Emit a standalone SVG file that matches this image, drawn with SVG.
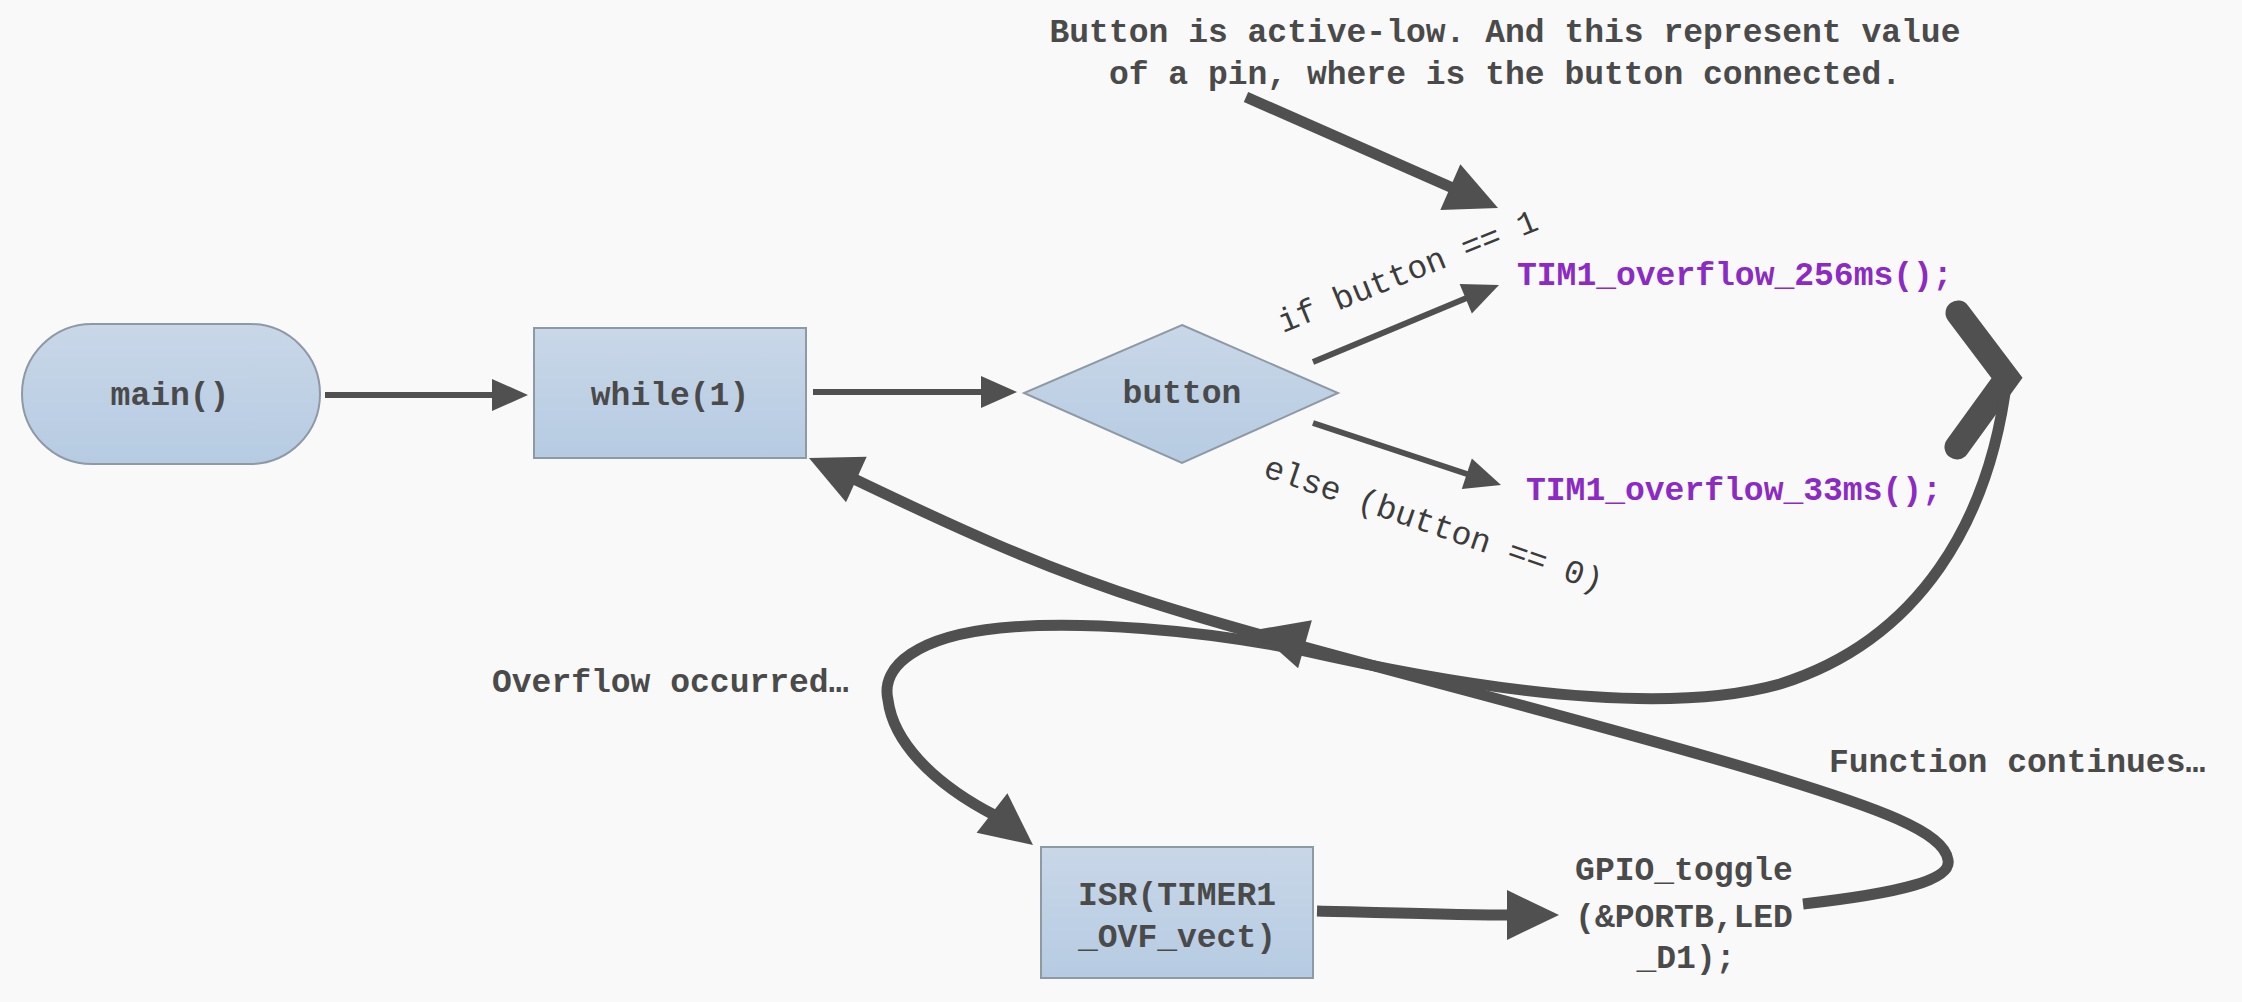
<svg xmlns="http://www.w3.org/2000/svg" xmlns:xlink="http://www.w3.org/1999/xlink" width="2242" height="1002" viewBox="0 0 2242 1002">
  <style>
    .node { fill: url(#nodeFill); stroke: #8e99a6; stroke-width: 2; }
    .lbl { font-family: "Liberation Mono", "DejaVu Sans Mono", monospace; font-size: 33px; font-weight: bold; fill: #4a4a4a; }
    .mid { text-anchor: middle; }
    .rot { font-weight: normal; fill: #3c3c3c; }
    .fn { fill: #8b2bc3; }
    .thin { fill: none; stroke: #505050; stroke-width: 6; }
    .thick { fill: none; stroke: #505050; stroke-width: 11; stroke-linecap: butt; }
    .head { fill: #505050; }
  </style>
  <defs>
    <linearGradient id="nodeFill" x1="0" y1="0" x2="0" y2="1">
      <stop offset="0" stop-color="#c9d7e8"/>
      <stop offset="1" stop-color="#b6cbe2"/>
    </linearGradient>
    <path id="bigHead" d="M0,0 L-52,-25 L-52,25 Z"/>
    <path id="smallHead" d="M0,0 L-36,-16 L-36,16 Z"/>
  </defs>

  <rect x="0" y="0" width="2242" height="1002" fill="#f9f9f9"/>

  <g id="node-main">
    <rect class="node" x="22" y="324" width="298" height="140" rx="70" ry="70"/>
    <text class="lbl mid" x="170" y="405">main()</text>
  </g>
  <g id="node-while">
    <rect class="node" x="534" y="328" width="272" height="130"/>
    <text class="lbl mid" x="670" y="405">while(1)</text>
  </g>
  <g id="node-button">
    <polygon class="node" points="1182,325 1338,393 1182,463 1024,393" stroke="#9fb0c2"/>
    <text class="lbl mid" x="1182" y="403">button</text>
  </g>
  <g id="node-tim256">
    <text class="lbl fn" x="1517" y="285">TIM1_overflow_256ms();</text>
  </g>
  <g id="node-tim33">
    <text class="lbl fn" x="1526" y="500">TIM1_overflow_33ms();</text>
  </g>
  <g id="node-isr">
    <rect class="node" x="1041" y="847" width="272" height="131"/>
    <text class="lbl mid" x="1177" y="905">ISR(TIMER1</text>
    <text class="lbl mid" x="1177" y="947">_OVF_vect)</text>
  </g>
  <g id="node-gpio">
    <text class="lbl mid" x="1684" y="880">GPIO_toggle</text>
    <text class="lbl mid" x="1684" y="927">(&amp;PORTB,LED</text>
    <text class="lbl mid" x="1686" y="968">_D1);</text>
  </g>
  <g id="note-button">
    <text class="lbl mid" x="1505" y="42">Button is active-low. And this represent value</text>
    <text class="lbl mid" x="1505" y="84">of a pin, where is the button connected.</text>
  </g>
  <g id="note-overflow">
    <text class="lbl" x="492" y="692">Overflow occurred…</text>
  </g>
  <g id="note-continues">
    <text class="lbl" x="1829" y="772">Function continues…</text>
  </g>

  <g id="connectors">
    <!-- main -> while -->
    <line class="thin" x1="325" y1="395" x2="496" y2="395"/>
    <use href="#smallHead" class="head" transform="translate(528,395)"/>
    <!-- while -> button -->
    <line class="thin" x1="813" y1="392" x2="985" y2="392"/>
    <use href="#smallHead" class="head" transform="translate(1017,392)"/>
    <!-- button -> TIM1 256 -->
    <line class="thin" x1="1313" y1="362" x2="1469" y2="297"/>
    <use href="#smallHead" class="head" transform="translate(1499,285) rotate(-22.5)"/>
    <text class="lbl rot" transform="translate(1283,333) rotate(-22)">if button == 1</text>
    <!-- button -> TIM1 33 -->
    <line class="thin" x1="1313" y1="423" x2="1470" y2="475"/>
    <use href="#smallHead" class="head" transform="translate(1501,485) rotate(18.3)"/>
    <text class="lbl rot" transform="translate(1262,476) rotate(19)">else (button == 0)</text>

    <!-- annotation arrow -->
    <line class="thick" x1="1246" y1="97" x2="1455" y2="189"/>
    <use href="#bigHead" class="head" transform="translate(1498,208) rotate(23.6)"/>

    <!-- chevron curve: timer functions -> overflow -> ISR -->
    <polyline points="1958,313 2007,378 1957,447" fill="none" stroke="#505050" stroke-width="25" stroke-linecap="round" stroke-linejoin="miter"/>
    <path class="thick" d="M2007,378 C1990,520 1920,640 1780,684 C1680,712 1520,700 1300,650 C1200,630 1080,620 1000,628 C920,636 880,665 888,700 C893,740 930,782 996,816"/>
    <use href="#bigHead" class="head" transform="translate(1033,845) rotate(38)"/>
    <use href="#bigHead" class="head" transform="translate(1255,630) rotate(196)"/>

    <!-- ISR -> GPIO -->
    <path class="thick" d="M1317,911 C1400,913 1460,915 1512,915" stroke-width="12"/>
    <use href="#bigHead" class="head" transform="translate(1559,915)"/>

    <!-- GPIO -> function continues -> while -->
    <path class="thick" d="M1803,904 C1900,893 1952,880 1948,860 C1944,832 1880,808 1760,772 C1560,712 1300,650 1150,602 C1040,567 950,525 852,478"/>
    <use href="#bigHead" class="head" transform="translate(809,458) rotate(204.4)"/>
  </g>
</svg>
